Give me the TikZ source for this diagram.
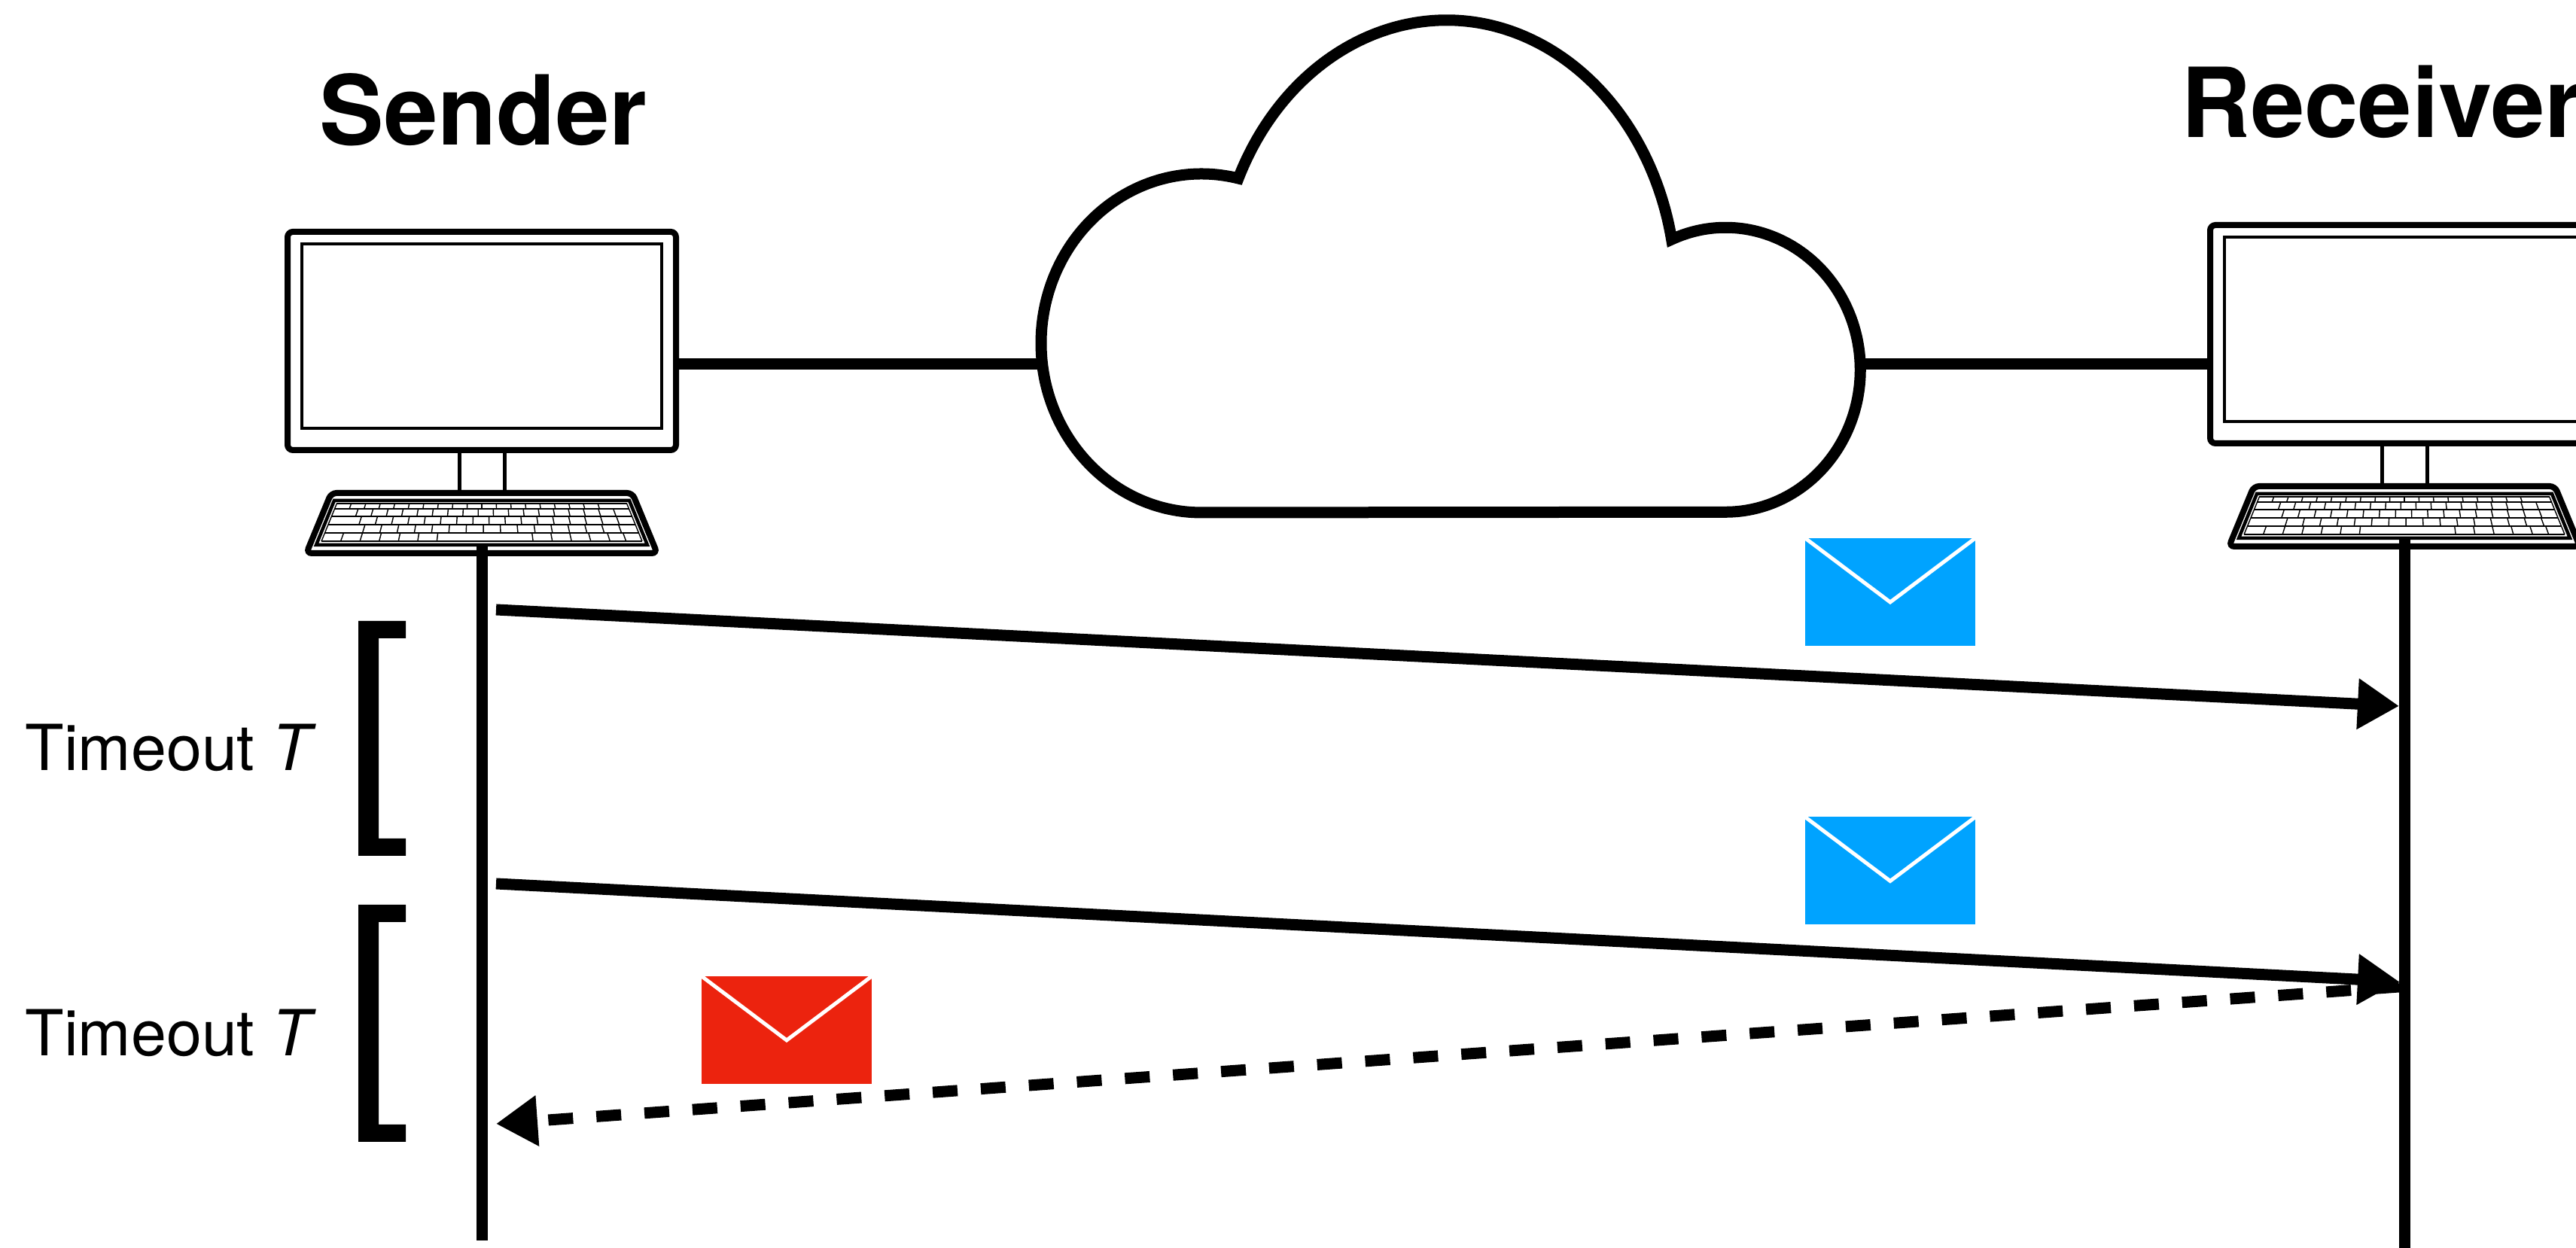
\documentclass[tikz,border=0pt]{standalone}
\usepackage{fontspec}
\setmainfont{TeX Gyre Heros}
\usetikzlibrary{arrows.meta}

\definecolor{gMailBlue}{HTML}{00A3FF}
\definecolor{gMailRed}{HTML}{EC230E}
\definecolor{gInk}{HTML}{000000}

% desktop computer, (#1,#2) = bottom centre of the keyboard
\newcommand{\gdesktop}[2]{%
  \begin{scope}[shift={(#1,#2)}]
    \draw[pcframe, rounded corners=2pt] (-2.58,1.41) rectangle (2.58,4.31);
    \draw[pcthin] (-2.39,1.70) rectangle (2.39,4.15);
    \draw[pcstand] (-0.30,1.41) -- (-0.30,0.84) (0.30,1.41) -- (0.30,0.84);
    \draw[pcframe, rounded corners=2pt]
      (-2.33,0.04) -- (-2.00,0.84) -- (2.00,0.84) -- (2.33,0.04) -- cycle;
    \draw[pcthin] (-2.20,0.15) -- (-1.96,0.74) -- (1.96,0.74) -- (2.20,0.15) -- cycle;
    \foreach \t in {0.70,0.63,0.53,0.42,0.31,0.20}
      \draw[keyline] ({-kbw(\t)+0.05},\t) -- ({kbw(\t)-0.05},\t);
    \draw[keyline] ({-kbw(0.70)+0.05},0.70) -- ({-kbw(0.20)+0.05},0.20);
    \draw[keyline] ({kbw(0.70)-0.05},0.70) -- ({kbw(0.20)-0.05},0.20);
    \foreach \ya/\yb/\keys in {%
        0.70/0.63/{0.05,0.10,...,0.95},
        0.63/0.53/{0.08,0.131,...,0.95},
        0.53/0.42/{0.10,0.153,...,0.95},
        0.42/0.31/{0.12,0.175,...,0.95},
        0.31/0.20/{0.06,0.12,0.18,0.24,0.30,0.36,0.66,0.72,0.78,0.84,0.90,0.95}}{%
      \foreach \f in \keys
        \draw[keyline] ({(2*\f-1)*(kbw(\ya)-0.05)},\ya) -- ({(2*\f-1)*(kbw(\yb)-0.05)},\yb);}
  \end{scope}}

% envelope centred at (#1,#2)
\newcommand{\genvelope}[3]{%
  \begin{scope}[shift={(#1,#2)}]
    \fill[#3] (-1.13,-0.715) rectangle (1.13,0.715);
    \draw[white, line width=0.5mm] (-1.13,0.715) -- (0,-0.135) -- (1.13,0.715);
  \end{scope}}

% timeout bracket from #1 (top) to #2 (bottom)
\newcommand{\gtimer}[2]{%
  \fill[gInk] (5.39,#1) -- (4.76,#1) -- (4.76,#2) -- (5.39,#2) -- (5.39,{#2+0.23})
    -- (5.03,{#2+0.23}) -- (5.03,{#1-0.23}) -- (5.39,{#1-0.23}) -- cycle;}

\begin{document}
\begin{tikzpicture}[
  x=1cm, y=1cm,
  declare function={kbw(\t)=2.20-0.407*(\t-0.15);},
  pcframe/.style={draw=gInk, line width=0.8mm},
  pcthin/.style={draw=gInk, line width=0.45mm},
  pcstand/.style={draw=gInk, line width=0.5mm},
  keyline/.style={draw=gInk, line width=0.4pt},
  wire/.style={draw=gInk, line width=1.5mm},
  lifeline/.style={draw=gInk, line width=1.5mm},
  msg/.style={draw=gInk, line width=1.5mm, -{Triangle[length=5.5mm,width=6.4mm]}},
  lostmsg/.style={msg, dash pattern=on 3.3mm off 3.1mm},
  hostname/.style={inner sep=0pt, font=\bfseries\fontsize{36.5}{40}\selectfont},
  timeout/.style={anchor=base west, inner sep=0pt, font=\fontsize{24}{28}\selectfont},
]
\useasboundingbox (0,0) rectangle (34.22,16.58);

% ---- hosts ---------------------------------------------------------------
\node[hostname, anchor=base]      (sender)   at (6.42,14.65) {Sender};
\node[hostname, anchor=base west] (receiver) at (28.97,14.75) {Receiver};
\gdesktop{6.40}{9.19}
\gdesktop{31.94}{9.28}

% ---- network cloud: three lobes meeting where the ellipses cross -----------
\path (15.96,12.02) ++(270:2.13 and 2.25) coordinate (lobeL);
\draw[wire] (lobeL) arc[start angle=270, end angle=76.7, x radius=2.13, y radius=2.25]
  arc[start angle=155.1, end angle=11.4, x radius=3.05, y radius=3.63]
  arc[start angle=113.6, end angle=-90, x radius=1.79, y radius=1.89]
  -- cycle;

\coordinate (sndPort) at (8.98,11.74);
\coordinate (cloudW)  at (13.85,11.74);
\coordinate (cloudE)  at (24.72,11.74);
\coordinate (rcvPort) at (29.36,11.74);
\draw[wire] (sndPort) -- (cloudW);
\draw[wire] (cloudE) -- (rcvPort);

% ---- lifelines -----------------------------------------------------------
\coordinate (sndTop) at (6.40,9.34);
\coordinate (sndEnd) at (6.40,0.10);
\coordinate (rcvTop) at (31.94,9.43);
\coordinate (rcvEnd) at (31.94,-0.20);
\draw[lifeline] (sndTop) -- (sndEnd);
\draw[lifeline] (rcvTop) -- (rcvEnd);

% ---- timeouts ------------------------------------------------------------
\gtimer{8.33}{5.21}
\gtimer{4.56}{1.41}
\node[timeout] (timeout1) at (0.33,6.34) {Timeout \textit{T}};
\node[timeout] (timeout2) at (0.33,2.55) {Timeout \textit{T}};

% ---- messages ------------------------------------------------------------
\coordinate (send1) at (6.59,8.48);
\coordinate (recv1) at (31.87,7.20);
\coordinate (send2) at (6.59,4.84);
\coordinate (recv2) at (31.87,3.54);
\coordinate (ackOut) at (31.87,3.47);
\coordinate (ackIn)  at (6.59,1.65);
\draw[msg] (send1) -- (recv1);
\draw[msg] (send2) -- (recv2);
\draw[lostmsg] (ackOut) -- (ackIn);

\genvelope{25.11}{8.715}{gMailBlue}
\genvelope{25.11}{5.01}{gMailBlue}
\genvelope{10.45}{2.895}{gMailRed}
\end{tikzpicture}
\end{document}
